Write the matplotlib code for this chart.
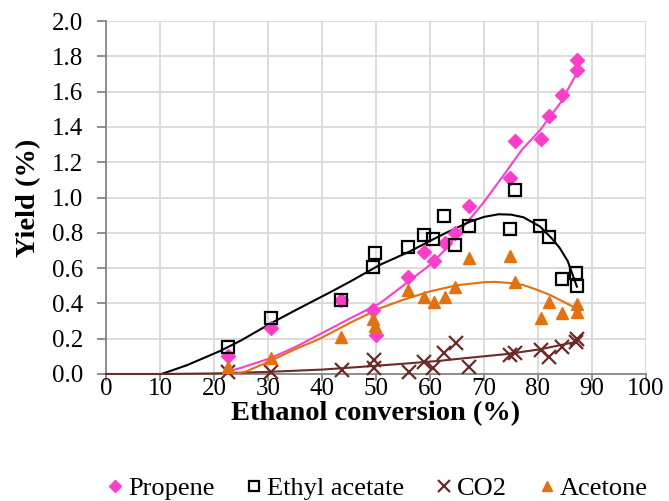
import matplotlib
matplotlib.use("Agg")
import matplotlib.pyplot as plt
import numpy as np

plt.rcParams["font.family"] = "serif"
plt.rcParams["font.serif"] = ["Liberation Serif", "DejaVu Serif"]

# ##### Data #####

propene_x = [22.5, 30.6, 43.6, 49.5, 50.0, 56.0, 58.9, 60.7, 62.7, 64.7,
             67.3, 74.9, 75.8, 80.5, 82.1, 84.4, 87.2, 87.2]
propene_y = [0.10, 0.26, 0.42, 0.36, 0.22, 0.55, 0.69, 0.64, 0.74, 0.80,
             0.95, 1.11, 1.32, 1.33, 1.46, 1.58, 1.72, 1.78]

ethyl_x = [22.5, 30.6, 43.6, 49.5, 49.9, 56.0, 58.9, 60.6, 62.5, 64.7,
           67.3, 74.9, 75.8, 80.4, 82.1, 84.4, 87.0, 87.2]
ethyl_y = [0.155, 0.315, 0.42, 0.605, 0.684, 0.72, 0.79, 0.763, 0.895,
           0.729, 0.84, 0.823, 1.04, 0.837, 0.778, 0.54, 0.57, 0.50]

co2_x = [22.5, 30.6, 43.7, 49.7, 49.7, 56.1, 58.8, 60.6, 62.6, 64.8,
         67.3, 74.8, 75.7, 80.5, 82.1, 84.4, 87.2, 87.0]
co2_y = [0.01, 0.01, 0.02, 0.079, 0.032, 0.013, 0.07, 0.032, 0.117,
         0.174, 0.041, 0.108, 0.117, 0.136, 0.098, 0.155, 0.20, 0.18]

acetone_x = [22.5, 30.6, 43.6, 49.5, 49.8, 56.0, 58.8, 60.7, 62.7, 64.7,
             67.3, 74.9, 75.8, 80.5, 82.1, 84.4, 87.2, 87.2]
acetone_y = [0.04, 0.089, 0.21, 0.31, 0.27, 0.476, 0.438, 0.41, 0.438,
             0.495, 0.66, 0.668, 0.523, 0.315, 0.406, 0.344, 0.397, 0.353]

# trendlines
propene_tx = [22.5, 25, 30.4, 35, 39.6, 45.2, 50.7, 55, 60, 63, 65.6, 68,
              70, 74.2, 77, 80.4, 84.1, 87.2]
propene_ty = [0.013, 0.035, 0.089, 0.152, 0.225, 0.315, 0.40, 0.50, 0.618,
              0.71, 0.816, 0.90, 0.975, 1.15, 1.27, 1.382, 1.534, 1.704]

ethyl_tx = [10.3, 15, 21.1, 25, 30.4, 35, 41.5, 45, 50.7, 56.3, 60, 63,
            67.4, 70, 72.7, 75, 77.3, 80.4, 82.5, 84, 85.5, 87.2]
ethyl_ty = [0, 0.05, 0.13, 0.19, 0.285, 0.36, 0.463, 0.52, 0.618, 0.695,
            0.754, 0.80, 0.863, 0.89, 0.905, 0.903, 0.888, 0.835, 0.77,
            0.715, 0.64, 0.495]

co2_tx = [0, 10, 20, 30, 40, 47, 55, 61.9, 65.6, 74.2, 80.4, 87.2]
co2_ty = [0, 0, 0.003, 0.012, 0.025, 0.04, 0.058, 0.075, 0.087, 0.113,
          0.14, 0.183]

acetone_tx = [23.9, 26, 30.4, 35, 39.6, 45.2, 50.7, 55, 60, 65, 70, 72,
              75, 77.3, 80, 82.2, 85, 87.2]
acetone_ty = [0, 0.015, 0.074, 0.14, 0.20, 0.29, 0.372, 0.42, 0.468, 0.503,
              0.52, 0.522, 0.515, 0.504, 0.475, 0.448, 0.405, 0.37]

pink = "#FF3DCB"
brown = "#6B2B27"
orange = "#E4700E"

# ##### Make plot #####

fig = plt.figure(figsize=(6.69, 5.01), dpi=100)
ax = fig.add_axes([106/669, 1-374/501, 540/669, 353/501])

ax.plot(propene_tx, propene_ty, color=pink, lw=1.5, zorder=3)
ax.plot(ethyl_tx, ethyl_ty, color="black", lw=1.5, zorder=3)
ax.plot(co2_tx, co2_ty, color=brown, lw=1.5, zorder=3, clip_on=False)
ax.plot(acetone_tx, acetone_ty, color=orange, lw=1.5, zorder=3)

ax.plot(propene_x, propene_y, ls="none", marker="D", ms=7.5, mfc=pink,
        mec=pink, zorder=4, clip_on=False, label="Propene")
ax.plot(ethyl_x, ethyl_y, ls="none", marker="s", ms=8, mfc="none",
        mec="black", mew=1.6, zorder=4, clip_on=False, label="Ethyl acetate")
ax.plot(co2_x, co2_y, ls="none", marker="x", ms=10, mew=1.6, color=brown,
        zorder=4, clip_on=False, label="CO2")
ax.plot(acetone_x, acetone_y, ls="none", marker="^", ms=9, mfc=orange,
        mec=orange, zorder=4, clip_on=False, label="Acetone")

ax.set_xlim(0, 100)
ax.set_ylim(0, 2.0)
ax.set_xticks(np.arange(0, 101, 10))
ax.set_yticks(np.arange(0, 2.01, 0.2))
ax.set_yticklabels(["%.1f" % v for v in np.arange(0, 2.01, 0.2)])
ax.grid(True, color="#D9D9D9", lw=1.3)
ax.set_axisbelow(True)
for s in ["top", "right"]:
    ax.spines[s].set_visible(False)
for s in ["left", "bottom"]:
    ax.spines[s].set_color("#868686")
    ax.spines[s].set_linewidth(1.3)
ax.tick_params(direction="out", width=1.3, color="#868686", labelsize=18)
ax.tick_params(axis="y", length=6.5, pad=10)
ax.tick_params(axis="x", length=5, pad=-2)

ax.set_xlabel("Ethanol conversion (%)", fontsize=20.5, fontweight="bold",
              labelpad=1)
ax.set_ylabel("Yield (%)", fontsize=20.5, fontweight="bold", labelpad=8)

ax.legend(loc="center", bbox_to_anchor=(0.5, (374-488)/353), ncol=4,
          frameon=False, fontsize=19, handletextpad=0.1, columnspacing=1.1,
          handlelength=0.8, markerscale=0.85, borderpad=0)

plt.savefig("out.png", dpi=100)
plt.close()
